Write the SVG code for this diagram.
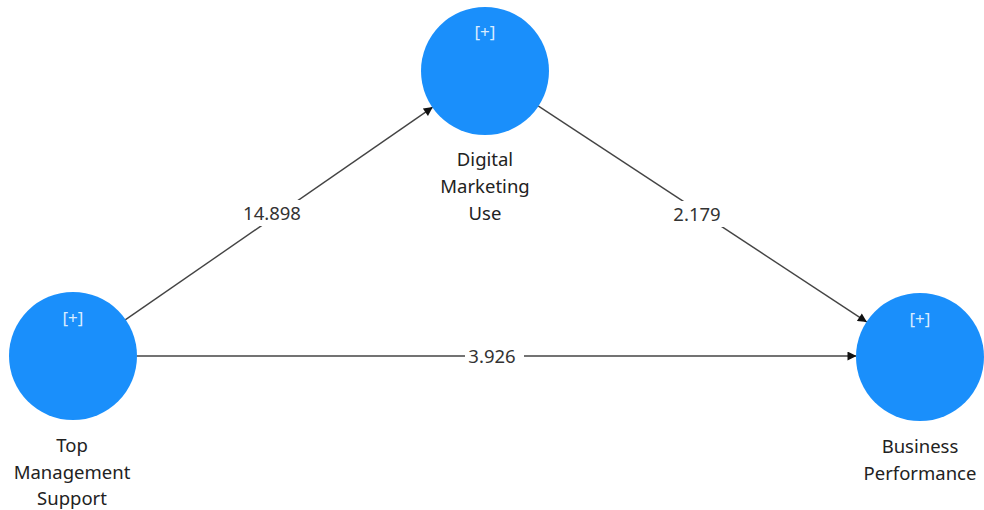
<svg xmlns="http://www.w3.org/2000/svg" width="984" height="510" viewBox="0 0 984 510">
  <style>
    .node { fill: #1a8ffb; }
    .plus { font-family: "Noto Sans", "Open Sans", sans-serif; font-size: 17px; fill: #d9ecff; text-anchor: middle; }
    .name { font-family: "Noto Sans", "Open Sans", sans-serif; font-size: 18.5px; fill: #222; text-anchor: middle; }
    .edge { stroke: #444; stroke-width: 1.4; fill: none; marker-end: url(#arrow); }
    .lbl-bg { fill: #fff; }
    .lbl { font-family: "Noto Sans", "Open Sans", sans-serif; font-size: 18.5px; fill: #333; text-anchor: middle; }
  </style>
  <defs>
    <marker id="arrow" viewBox="0 0 10 10" refX="10" refY="5" markerWidth="10" markerHeight="9" markerUnits="userSpaceOnUse" orient="auto">
      <path d="M0,0 L10,5 L0,10 z" fill="#111"/>
    </marker>
  </defs>
  <rect width="984" height="510" fill="#fff"/>

  <g id="connectors">
    <line class="edge" x1="125.2" y1="319.9" x2="432.8" y2="107.1"/>
    <line class="edge" x1="538.1" y1="105.9" x2="866.9" y2="322.1"/>
    <line class="edge" x1="136.5" y1="356" x2="856.5" y2="356"/>
    <rect class="lbl-bg" x="243" y="200" width="58" height="26"/>
    <text class="lbl" x="272" y="220">14.898</text>
    <rect class="lbl-bg" x="670" y="201" width="54" height="26"/>
    <text class="lbl" x="697" y="221">2.179</text>
    <rect class="lbl-bg" x="465" y="343" width="59" height="26"/>
    <text class="lbl" x="492" y="363">3.926</text>
  </g>

  <g id="top-management-support">
    <circle class="node" cx="73" cy="356" r="64"/>
    <text class="plus" x="73" y="324">[+]</text>
    <text class="name" x="72" y="452">Top</text>
    <text class="name" x="72" y="479">Management</text>
    <text class="name" x="72" y="505">Support</text>
  </g>

  <g id="digital-marketing-use">
    <circle class="node" cx="485" cy="71" r="64"/>
    <text class="plus" x="485" y="38">[+]</text>
    <text class="name" x="485" y="166">Digital</text>
    <text class="name" x="485" y="193">Marketing</text>
    <text class="name" x="485" y="220">Use</text>
  </g>

  <g id="business-performance">
    <circle class="node" cx="920" cy="357" r="64"/>
    <text class="plus" x="920" y="325">[+]</text>
    <text class="name" x="920" y="453">Business</text>
    <text class="name" x="920" y="480">Performance</text>
  </g>
</svg>
